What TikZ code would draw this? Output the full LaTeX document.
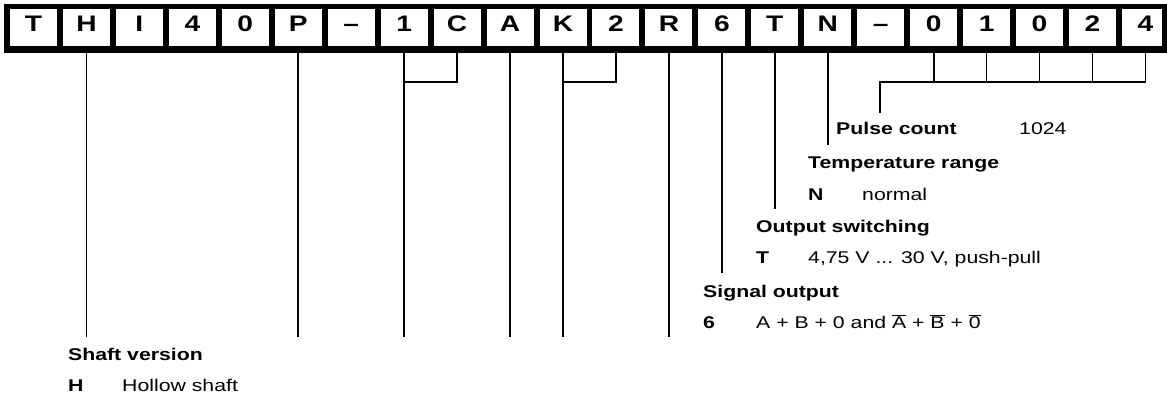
\documentclass[tikz,border=0pt]{standalone}
\usepackage{fontspec}
\setmainfont{Liberation Sans}[FakeStretch=1.25]
\newcommand\ovl[1]{\ensuremath{\overline{\hbox{#1}}}}
\begin{document}
\begin{tikzpicture}[x=1pt,y=-1pt,
  cell/.style={fill=white,minimum width=47pt,minimum height=37pt,inner sep=0pt,text height=0.716em,text depth=0pt,font=\fontsize{22.5}{26}\selectfont\bfseries},
  conn/.style={line width=1.7pt},
  lbl/.style={anchor=base west,inner sep=0pt,font=\fontsize{17}{20}\selectfont\bfseries},
  val/.style={anchor=base west,inner sep=0pt,font=\fontsize{17}{20}\selectfont}]
\useasboundingbox (0,0) rectangle (1167,401);
\node[fill=black,minimum width=1163pt,minimum height=49pt,inner sep=0pt,anchor=north west] (band) at (4,4) {};
\foreach \ch [count=\i] in {T,H,I,4,0,P,\textendash,1,C,A,K,2,R,6,T,N,\textendash,0,1,0,2,4}
  \node[cell] (c\i) at ({33.5+(\i-1)*52.95},27.5) {\ch};
\fill[black] (1162,4) rectangle (1167,53);
\coordinate (y82) at (0,82);
\coordinate (y113) at (0,113);
\coordinate (y145) at (0,145);
\coordinate (y209) at (0,209);
\coordinate (y273) at (0,273);
\coordinate (y337) at (0,337);
\coordinate (pulsecorner) at (880,82);
% long lines
\foreach \i in {2,6,8,10,11,13}
  \draw[conn] (c\i.south) -- (c\i.south |- y337);
\draw[conn] (c9.south) |- (c8.south |- y82);
\draw[conn] (c12.south) |- (c11.south |- y82);
\draw[conn] (c14.south) -- (c14.south |- y273);
\draw[conn] (c15.south) -- (c15.south |- y209);
\draw[conn] (c16.south) -- (c16.south |- y145);
\foreach \i in {18,...,21}
  \draw[conn] (c\i.south) -- (c\i.south |- y82);
\draw[conn] (c22.south) |- (pulsecorner) -- (pulsecorner |- y113);
% labels
\node[lbl] (pulse) at (836,135) {Pulse count};
\node[val] (pulsev) at (1019,135) {1024};
\node[lbl] (temp) at (808,168) {Temperature range};
\node[lbl] (tempk) at (808,200) {N};
\node[val] (tempv) at (862,200) {normal};
\node[lbl] (outs) at (756,232) {Output switching};
\node[lbl] (outsk) at (756,263) {T};
\node[val] (outsv) at (808,263) {4,75 V ... 30 V, push-pull};
\node[lbl] (sig) at (703,297) {Signal output};
\node[lbl] (sigk) at (703,328) {6};
\node[val] (sigv) at (756,328) {A + B + 0 and \ovl{A} + \ovl{B} + \ovl{0}};
\node[lbl] (shaft) at (68,360) {Shaft version};
\node[lbl] (shaftk) at (68,391) {H};
\node[val] (shaftv) at (122,391) {Hollow shaft};
\end{tikzpicture}
\end{document}
